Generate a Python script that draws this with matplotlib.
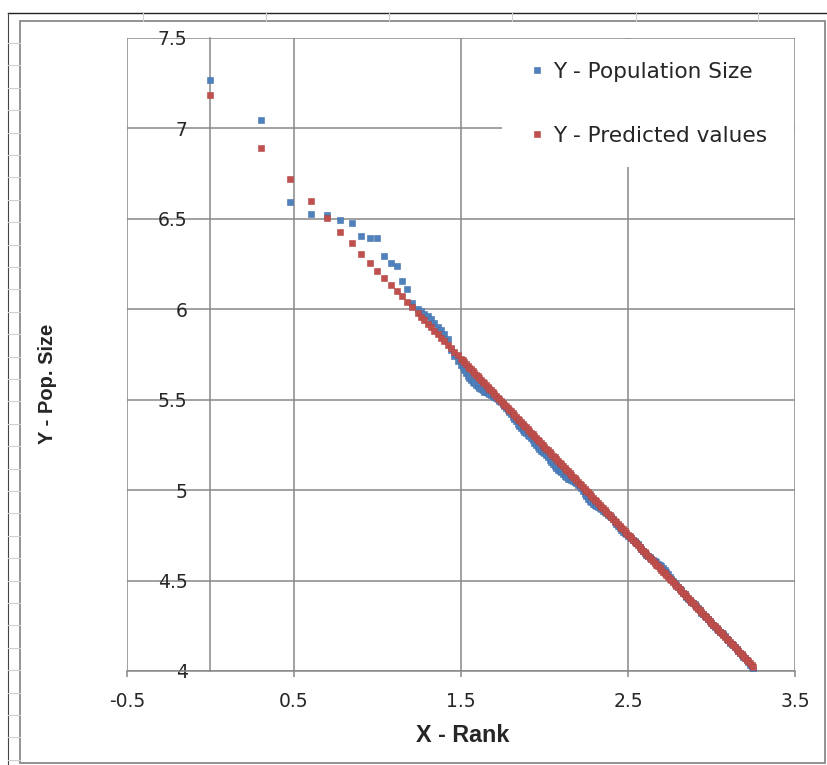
import matplotlib
matplotlib.use("Agg")
import matplotlib.pyplot as plt
from matplotlib.lines import Line2D
from matplotlib.patches import Rectangle

# X - Rank (log10 of rank)
x_rank = [0.0, 0.301, 0.477, 0.602, 0.699, 0.778, 0.845, 0.903, 0.954, 1.0,
          1.041, 1.079, 1.114, 1.146, 1.176, 1.204,
          1.24, 1.26, 1.28, 1.30, 1.32, 1.34, 1.36, 1.38, 1.40, 1.42, 1.44, 1.46, 1.48,
          1.50, 1.51, 1.52, 1.53, 1.54, 1.55, 1.56, 1.57, 1.58, 1.59,
          1.60, 1.61, 1.62, 1.63, 1.64, 1.65, 1.66, 1.67, 1.68, 1.69,
          1.70, 1.71, 1.72, 1.73, 1.74, 1.75, 1.76, 1.77, 1.78, 1.79,
          1.80, 1.81, 1.82, 1.83, 1.84, 1.85, 1.86, 1.87, 1.88, 1.89,
          1.90, 1.91, 1.92, 1.93, 1.94, 1.95, 1.96, 1.97, 1.98, 1.99,
          2.00, 2.01, 2.02, 2.03, 2.04, 2.05, 2.06, 2.07, 2.08, 2.09,
          2.10, 2.11, 2.12, 2.13, 2.14, 2.15, 2.16, 2.17, 2.18, 2.19,
          2.20, 2.21, 2.22, 2.23, 2.24, 2.25, 2.26, 2.27, 2.28, 2.29,
          2.30, 2.31, 2.32, 2.33, 2.34, 2.35, 2.36, 2.37, 2.38, 2.39,
          2.40, 2.41, 2.42, 2.43, 2.44, 2.45, 2.46, 2.47, 2.48, 2.49,
          2.50, 2.51, 2.52, 2.53, 2.54, 2.55, 2.56, 2.57, 2.58, 2.59,
          2.60, 2.61, 2.62, 2.63, 2.64, 2.65, 2.66, 2.67, 2.68, 2.69,
          2.70, 2.71, 2.72, 2.73, 2.74, 2.75, 2.76, 2.77, 2.78, 2.79,
          2.80, 2.81, 2.82, 2.83, 2.84, 2.85, 2.86, 2.87, 2.88, 2.89,
          2.90, 2.91, 2.92, 2.93, 2.94, 2.95, 2.96, 2.97, 2.98, 2.99,
          3.00, 3.01, 3.02, 3.03, 3.04, 3.05, 3.06, 3.07, 3.08, 3.09,
          3.10, 3.11, 3.12, 3.13, 3.14, 3.15, 3.16, 3.17, 3.18, 3.19,
          3.20, 3.21, 3.22, 3.23, 3.24, 3.25]

# Y - Population Size (blue)
y_population = [7.267, 7.046, 6.593, 6.528, 6.522, 6.493, 6.478, 6.405, 6.394, 6.394,
                6.294, 6.254, 6.240, 6.156, 6.110, 6.033,
                6.000, 5.990, 5.976, 5.961, 5.947, 5.922, 5.903, 5.888, 5.864, 5.834,
                5.775, 5.740, 5.716,
                5.692, 5.679, 5.667, 5.649, 5.633, 5.620, 5.608, 5.600, 5.594, 5.584,
                5.574, 5.567, 5.560, 5.552, 5.545, 5.541, 5.536, 5.531, 5.526, 5.522,
                5.517, 5.510, 5.502, 5.495, 5.488, 5.475, 5.463, 5.454, 5.444, 5.432,
                5.420, 5.407, 5.395, 5.380, 5.366, 5.354, 5.341, 5.331, 5.322, 5.315,
                5.307, 5.298, 5.288, 5.276, 5.263, 5.251, 5.239, 5.229, 5.219, 5.212,
                5.205, 5.192, 5.181, 5.169, 5.156, 5.143, 5.132, 5.122, 5.112, 5.104,
                5.098, 5.088, 5.078, 5.071, 5.064, 5.059, 5.054, 5.050, 5.045, 5.037,
                5.030, 5.021, 5.011, 4.996, 4.981, 4.967, 4.952, 4.942, 4.933, 4.926,
                4.918, 4.913, 4.909, 4.901, 4.894, 4.887, 4.880, 4.872, 4.865, 4.859,
                4.851, 4.839, 4.826, 4.814, 4.802, 4.790, 4.777, 4.771, 4.763, 4.755,
                4.749, 4.742, 4.734, 4.726, 4.720, 4.710, 4.700, 4.687, 4.676, 4.664,
                4.651, 4.644, 4.637, 4.629, 4.622, 4.616, 4.608, 4.600, 4.593, 4.587,
                4.579, 4.569, 4.560, 4.548, 4.535, 4.522, 4.511, 4.499, 4.486, 4.473,
                4.462, 4.455, 4.447, 4.434, 4.423, 4.411, 4.399, 4.391, 4.384, 4.376,
                4.368, 4.361, 4.348, 4.335, 4.322, 4.314, 4.306, 4.298, 4.289, 4.278,
                4.267, 4.255, 4.243, 4.234, 4.226, 4.218, 4.212, 4.203, 4.191, 4.179,
                4.169, 4.157, 4.148, 4.141, 4.133, 4.122, 4.111, 4.100, 4.088, 4.079,
                4.072, 4.060, 4.048, 4.035, 4.023, 4.004]

# Y - Predicted values (red)
y_predicted = [7.186, 6.893, 6.722, 6.600, 6.506, 6.429, 6.364, 6.307, 6.258, 6.213,
               6.173, 6.136, 6.102, 6.071, 6.042, 6.015,
               5.980, 5.960, 5.941, 5.921, 5.902, 5.882, 5.863, 5.843, 5.824, 5.804,
               5.785, 5.765, 5.746,
               5.727, 5.717, 5.707, 5.697, 5.688, 5.678, 5.668, 5.658, 5.649, 5.639,
               5.629, 5.619, 5.610, 5.600, 5.590, 5.581, 5.571, 5.561, 5.551, 5.542,
               5.532, 5.522, 5.512, 5.503, 5.493, 5.483, 5.473, 5.464, 5.454, 5.444,
               5.435, 5.425, 5.415, 5.405, 5.396, 5.386, 5.376, 5.366, 5.357, 5.347,
               5.337, 5.328, 5.318, 5.308, 5.298, 5.289, 5.279, 5.269, 5.259, 5.250,
               5.240, 5.230, 5.221, 5.211, 5.201, 5.191, 5.182, 5.172, 5.162, 5.152,
               5.143, 5.133, 5.123, 5.113, 5.104, 5.094, 5.084, 5.075, 5.065, 5.055,
               5.045, 5.036, 5.026, 5.016, 5.006, 4.997, 4.987, 4.977, 4.968, 4.958,
               4.948, 4.938, 4.929, 4.919, 4.909, 4.899, 4.890, 4.880, 4.870, 4.861,
               4.851, 4.841, 4.831, 4.822, 4.812, 4.802, 4.792, 4.783, 4.773, 4.763,
               4.754, 4.744, 4.734, 4.724, 4.715, 4.705, 4.695, 4.685, 4.676, 4.666,
               4.656, 4.646, 4.637, 4.627, 4.617, 4.608, 4.598, 4.588, 4.578, 4.569,
               4.559, 4.549, 4.540, 4.530, 4.520, 4.510, 4.501, 4.491, 4.481, 4.471,
               4.462, 4.452, 4.442, 4.432, 4.423, 4.413, 4.403, 4.394, 4.384, 4.374,
               4.364, 4.355, 4.345, 4.335, 4.325, 4.316, 4.306, 4.296, 4.286, 4.277,
               4.267, 4.257, 4.248, 4.238, 4.228, 4.218, 4.209, 4.199, 4.189, 4.179,
               4.170, 4.160, 4.150, 4.141, 4.131, 4.121, 4.111, 4.102, 4.092, 4.082,
               4.072, 4.063, 4.053, 4.043, 4.033, 4.024]

x_ticks = [-0.5, 0.5, 1.5, 2.5, 3.5]
y_ticks = [4, 4.5, 5, 5.5, 6, 6.5, 7, 7.5]
y_tick_labels = ["4", "4.5", "5", "5.5", "6", "6.5", "7", "7.5"]

W, H = 828, 765
grid_col = "#878787"
text_col = "#262626"


def fx(px):
    return px / W


def fy(py):
    return 1 - py / H


fig = plt.figure(figsize=(W / 100, H / 100), dpi=100)

# spreadsheet bits around the chart object
fig.add_artist(Line2D([fx(8), fx(W)], [fy(13), fy(13)], color="#222222", lw=1.0))
fig.add_artist(Line2D([fx(8), fx(8)], [fy(13), fy(H)], color="#444444", lw=0.8))
for cx in [143, 266, 389, 512, 636, 758]:
    fig.add_artist(Line2D([fx(cx), fx(cx)], [fy(13), fy(21)], color="#cfcfcf", lw=0.8))
ry = 43
while ry < H:
    fig.add_artist(Line2D([fx(8), fx(20)], [fy(ry), fy(ry)], color="#cfcfcf", lw=0.8))
    ry += 22.4
fig.add_artist(Rectangle((fx(20), fy(763)), fx(825) - fx(20), fy(21) - fy(763),
                         fill=False, edgecolor="#8a8a8a", lw=1.3))

ax = fig.add_axes([fx(127), fy(671), fx(795) - fx(127), fy(38) - fy(671)])

ax.plot(x_rank, y_population, linestyle="none", marker="s", ms=5.0,
        mfc="#4F81BD", mec="#4573AE", mew=0.4, label="Y - Population Size", zorder=3)
ax.plot(x_rank, y_predicted, linestyle="none", marker="s", ms=5.0,
        mfc="#C0504D", mec="#B24744", mew=0.4, label="Y - Predicted values", zorder=4)

ax.set_xlim(-0.5, 3.5)
ax.set_ylim(4, 7.5)
ax.set_xticks(x_ticks)
ax.set_xticklabels([str(t) for t in x_ticks])
ax.set_yticks(y_ticks)
ax.set_yticklabels(y_tick_labels)
ax.set_axisbelow(True)
ax.grid(True, color=grid_col, lw=1.1)

for s in ["top", "right"]:
    ax.spines[s].set_visible(False)
ax.spines["left"].set_position(("data", 0))
ax.spines["left"].set_color(grid_col)
ax.spines["left"].set_linewidth(1.1)
ax.spines["bottom"].set_color(grid_col)
ax.spines["bottom"].set_linewidth(1.1)

ax.tick_params(axis="x", direction="out", length=4.3, width=1.1, color=grid_col,
               labelsize=13.5, labelcolor=text_col, pad=11)
ax.tick_params(axis="y", length=0, labelsize=13.5, labelcolor=text_col, pad=16.5)

# white legend area hiding the grid
ax.add_patch(Rectangle((fx(502), fy(167)), fx(794) - fx(502), fy(39) - fy(167),
                       transform=fig.transFigure, facecolor="white", edgecolor="none",
                       zorder=1.5, clip_on=False))
leg = ax.legend(loc="upper left", bbox_to_anchor=(fx(529), fy(62)),
                bbox_transform=fig.transFigure, frameon=False, fontsize=15.6,
                handlelength=0.77, handletextpad=0.33, labelspacing=2.02,
                borderpad=0, borderaxespad=0, markerscale=0.8)
for t in leg.get_texts():
    t.set_color(text_col)

fig.text(fx(463), fy(735), "X - Rank", ha="center", va="center", fontsize=16.8,
         fontweight="bold", family="Liberation Sans", color=text_col)
fig.text(fx(48), fy(384), "Y - Pop. Size", ha="center", va="center", fontsize=14.5,
         fontweight="bold", family="Liberation Sans", color=text_col, rotation=90)

fig.savefig("out.png", dpi=100)
